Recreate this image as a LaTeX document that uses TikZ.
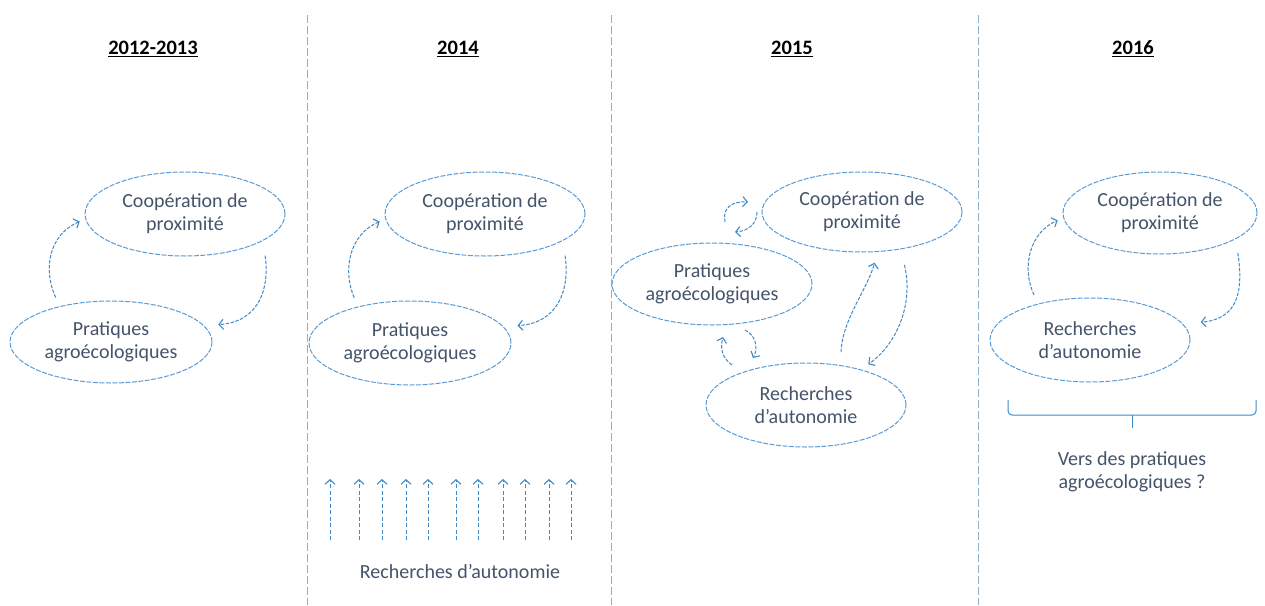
\documentclass[tikz,border=0pt]{standalone}
\usepackage{fontspec}
\setmainfont{Carlito}
\usetikzlibrary{shapes.geometric,arrows.meta}
\definecolor{txt}{HTML}{44546A}
\definecolor{ellblue}{HTML}{5B9BD5}
\definecolor{arrblue}{HTML}{3F8AC6}
\definecolor{divcol}{HTML}{8FB0CA}
\newcommand\mybody{\fontsize{20}{23}\selectfont}
\newcommand\mytitle{\fontsize{20.5}{24}\selectfont\bfseries}
\tikzset{
  ell/.style={ellipse, draw=ellblue, line width=1pt, dash pattern=on 5pt off 1.5pt,
    inner sep=0pt, text=txt, font=\mybody, align=center},
  arr/.style={draw=arrblue, line width=1pt, dash pattern=on 3.5pt off 1.5pt,
    -{Straight Barb[length=4.5pt,width=10pt,line width=1.1pt]}},
  varr/.style={draw=arrblue, line width=1pt, dash pattern=on 4pt off 2.5pt,
    -{Straight Barb[length=4.5pt,width=10pt,line width=1.1pt]}},
  divider/.style={draw=divcol, line width=1pt, dash pattern=on 8pt off 3pt},
  yeartitle/.style={font=\mytitle, text=black, inner sep=2pt},
  lbl/.style={font=\mybody, text=txt, align=center, inner sep=1pt},
  brace/.style={draw=arrblue, line width=1pt, rounded corners=4pt},
}
\begin{document}
\begin{tikzpicture}[x=1pt,y=-1pt]
\useasboundingbox[fill=white] (0,0) rectangle (1265,605);

% dividers
\foreach \dx in {307.5,611.5,978.5}{
  \draw[divider] (\dx,15) -- (\dx,605);
}

% titles
\node[yeartitle] (t1) at (153,49) {\underline{2012-2013}};
\node[yeartitle] (t2) at (458,49) {\underline{2014}};
\node[yeartitle] (t3) at (792,49) {\underline{2015}};
\node[yeartitle] (t4) at (1133,49) {\underline{2016}};

% panel 1
\node[ell, minimum width=200pt, minimum height=84pt] (C1) at (185,214) {Coopération de\\proximité};
\node[ell, minimum width=202pt, minimum height=82pt] (P1) at (111,342) {Pratiques\\agroécologiques};
\draw[arr, shorten <=9.6pt, shorten >=6pt] (P1.145) .. controls (42,268) and (50,234) .. (C1.183);
\draw[arr, shorten <=15pt, shorten >=14pt] (C1.-19) .. controls (270,290) and (258,322) .. (P1.10);

% panel 2
\node[ell, minimum width=200pt, minimum height=84pt] (C2) at (485,214) {Coopération de\\proximité};
\node[ell, minimum width=202pt, minimum height=84pt] (P2) at (410,343) {Pratiques\\agroécologiques};
\draw[arr, shorten <=9.6pt, shorten >=6pt] (P2.145) .. controls (342,269) and (350,234) .. (C2.183);
\draw[arr, shorten <=15pt, shorten >=14pt] (C2.-19) .. controls (570,290) and (558,323) .. (P2.10);
\node[lbl] (R2) at (460,572) {Recherches d’autonomie};
\foreach \vx in {330,359,382,406,428,456,478,503,525,549,571}{
  \coordinate (vb\vx) at (\vx,540);
  \coordinate (vt\vx) at (\vx,479);
  \draw[varr] (vb\vx) -- (vt\vx);
}

% panel 3
\node[ell, minimum width=200pt, minimum height=80pt] (C3) at (862,212) {Coopération de\\proximité};
\node[ell, minimum width=200pt, minimum height=82pt] (P3) at (712,284) {Pratiques\\agroécologiques};
\node[ell, minimum width=200pt, minimum height=84pt] (R3) at (806,405) {Recherches\\d’autonomie};
\draw[arr, shorten <=13pt, shorten >=11pt] (R3.49) .. controls (842,320) and (868,288) .. (C3.-69);
\draw[arr, shorten <=16pt, shorten >=9pt] (C3.-44) .. controls (914,305) and (896,345) .. (R3.33);
\coordinate (l1s) at (725,222); \coordinate (l1e) at (748,202);
\coordinate (l2s) at (757,212); \coordinate (l2e) at (735,232);
\coordinate (l3s) at (732,365); \coordinate (l3e) at (723,337);
\coordinate (l4s) at (745,330); \coordinate (l4e) at (753,358);
\draw[arr] (l1s) .. controls (722,208) and (732,201) .. (l1e);
\draw[arr] (l2s) .. controls (757,224) and (748,231) .. (l2e);
\draw[arr] (l3s) .. controls (722,358) and (720,348) .. (l3e);
\draw[arr] (l4s) .. controls (755,335) and (759,347) .. (l4e);

% panel 4
\node[ell, minimum width=194pt, minimum height=82pt] (C4) at (1160,213) {Coopération de\\proximité};
\node[ell, minimum width=200pt, minimum height=84pt] (R4) at (1090,340) {Recherches\\d’autonomie};
\draw[arr, shorten <=9.6pt, shorten >=6pt] (R4.145) .. controls (1021,267) and (1030,232) .. (C4.183);
\draw[arr, shorten <=14pt, shorten >=18pt] (C4.-19) .. controls (1243,288) and (1240,319) .. (R4.10);
\coordinate (bl) at (1008,400);
\coordinate (br) at (1256,400);
\coordinate (bm) at (1132,415);
\coordinate (bt) at (1132,428);
\draw[brace] (bl) |- (bm);
\draw[brace] (br) |- (bm);
\draw[draw=arrblue, line width=1pt] (bm) -- (bt);
\node[lbl] (V4) at (1132,472) {Vers des pratiques\\agroécologiques ?};
\end{tikzpicture}
\end{document}
